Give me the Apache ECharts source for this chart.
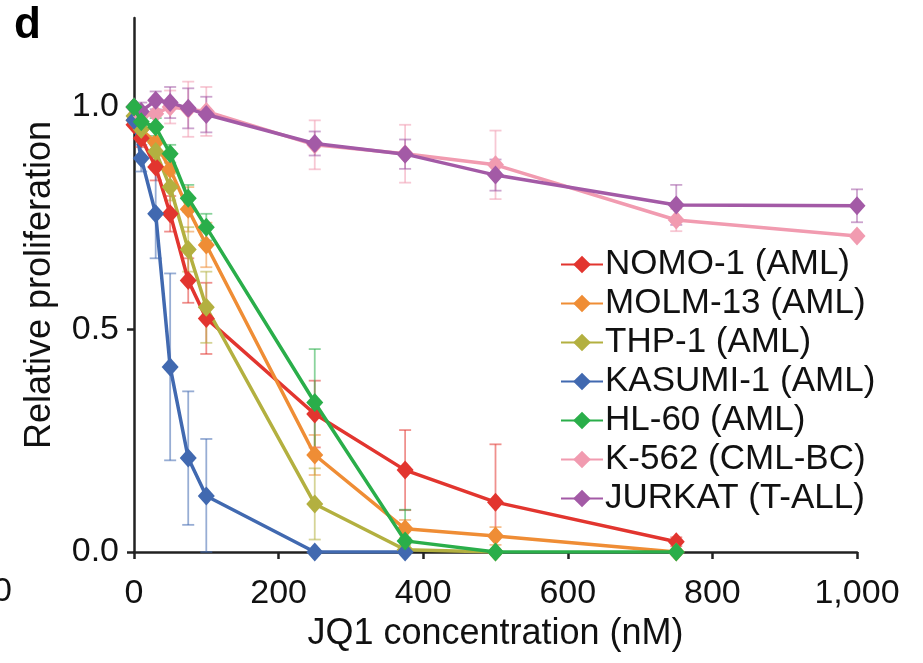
<!DOCTYPE html>
<html>
<head>
<meta charset="utf-8">
<script src="https://cdn.jsdelivr.net/npm/echarts@6/dist/echarts.min.js"></script>
<style>
html,body{margin:0;padding:0;background:#fff;}
#chart{width:923px;height:663px;}
</style>
</head>
<body>
<div id="chart"></div>
<script>
const doses = [0, 10, 30, 50, 75, 100, 250, 375, 500, 750, 1000];
const xTicks = [0, 200, 400, 600, 800, 1000];
const yTicks = [0, 0.5, 1.0];
const seriesNames = ['NOMO-1 (AML)', 'MOLM-13 (AML)', 'THP-1 (AML)', 'KASUMI-1 (AML)', 'HL-60 (AML)', 'K-562 (CML-BC)', 'JURKAT (T-ALL)'];
const colors = ['#e2352f', '#ef8d35', '#b3b040', '#4169b0', '#2aae4a', '#f19bb0', '#a35aa6'];

const nomo   = [0.96, 0.93, 0.865, 0.76, 0.61, 0.525, 0.31, 0.184, 0.112, 0.023, null];
const molm   = [0.97, 0.95, 0.92, 0.86, 0.77, 0.69, 0.218, 0.052, 0.036, 0.0, null];
const thp    = [0.98, 0.95, 0.90, 0.82, 0.68, 0.55, 0.108, 0.005, 0.0, null, null];
const kasumi = [0.97, 0.885, 0.76, 0.416, 0.211, 0.126, 0.0, 0.0, null, null, null];
const hl60   = [1.0, 0.967, 0.955, 0.895, 0.795, 0.73, 0.336, 0.025, 0.0, 0.0, null];
const k562   = [1.0, 0.98, 0.985, 1.0, 0.995, 0.99, 0.915, 0.895, 0.87, 0.746, 0.71];
const jurkat = [1.0, 0.99, 1.015, 1.01, 0.997, 0.983, 0.918, 0.894, 0.847, 0.78, 0.778];

const nomoErr   = [0, 0.02, 0.03, 0.04, 0.05, 0.08, 0.075, 0.09, 0.13, 0.01, null];
const molmErr   = [0, 0.02, 0.03, 0.04, 0.05, 0.05, 0.045, 0.02, 0.02, 0, null];
const thpErr    = [0, 0.02, 0.03, 0.03, 0.05, 0.08, 0.08, 0.01, 0, null, null];
const kasumiErr = [0, 0.03, 0.10, 0.21, 0.15, 0.128, 0, 0, null, null, null];
const hl60Err   = [0, 0.01, 0.02, 0.02, 0.03, 0.03, 0.12, 0.07, 0, 0, null];
const k562Err   = [0, 0.02, 0.03, 0.037, 0.062, 0.055, 0.055, 0.065, 0.077, 0.025, 0];
const jurkatErr = [0, 0.02, 0.02, 0.035, 0.045, 0.04, 0.027, 0.033, 0.035, 0.045, 0.037];

const values = [nomo, molm, thp, kasumi, hl60, k562, jurkat];
const errors = [nomoErr, molmErr, thpErr, kasumiErr, hl60Err, k562Err, jurkatErr];
const zOrder = [3, 3, 3, 3, 5, 3, 4];

const FONT = '"Liberation Sans", Arial, Helvetica, sans-serif';

function hexA(hex, a) {
  const r = parseInt(hex.slice(1, 3), 16), g = parseInt(hex.slice(3, 5), 16), b = parseInt(hex.slice(5, 7), 16);
  return 'rgba(' + r + ',' + g + ',' + b + ',' + a + ')';
}

const series = [];
seriesNames.forEach((name, i) => {
  const errData = [];
  doses.forEach((d, j) => {
    const v = values[i][j], e = errors[i][j];
    if (v != null && e) errData.push([d, v, Math.max(0, v - e), v + e]);
  });
  series.push({
    type: 'custom',
    name: 'err ' + name,
    z: 1,
    silent: true,
    data: errData,
    renderItem: function (params, api) {
      const top = api.coord([api.value(0), api.value(3)]);
      const bot = api.coord([api.value(0), api.value(2)]);
      const cap = 6;
      const style = { stroke: hexA(colors[i], 0.55), lineWidth: 1.8 };
      return {
        type: 'group',
        children: [
          { type: 'line', shape: { x1: top[0], y1: top[1], x2: bot[0], y2: bot[1] }, style: style },
          { type: 'line', shape: { x1: top[0] - cap, y1: top[1], x2: top[0] + cap, y2: top[1] }, style: style },
          { type: 'line', shape: { x1: bot[0] - cap, y1: bot[1], x2: bot[0] + cap, y2: bot[1] }, style: style }
        ]
      };
    }
  });
});
seriesNames.forEach((name, i) => {
  series.push({
    type: 'line',
    name: name,
    z: zOrder[i],
    data: doses.map((d, j) => [d, values[i][j]]).filter(p => p[1] != null),
    symbol: 'diamond',
    symbolSize: [17, 19],
    lineStyle: { color: colors[i], width: 3.5 },
    itemStyle: { color: colors[i] },
    emphasis: { disabled: true }
  });
});

const chart = echarts.init(document.getElementById('chart'));
chart.setOption({
  animation: false,
  backgroundColor: '#ffffff',
  color: colors,
  grid: { left: 134, right: 66, top: 18, bottom: 111, containLabel: false },
  xAxis: {
    type: 'value',
    min: 0, max: 1000, interval: 200,
    name: 'JQ1 concentration (nM)',
    nameLocation: 'middle',
    nameGap: 64,
    nameTextStyle: { fontFamily: FONT, fontSize: 36, color: '#111' },
    axisLine: { show: true, lineStyle: { color: '#222', width: 2.5 } },
    axisTick: { show: true, inside: false, length: 7, lineStyle: { color: '#222', width: 2.5 }, customValues: xTicks },
    axisLabel: {
      fontFamily: FONT, fontSize: 34, color: '#111', margin: 25,
      customValues: xTicks,
      formatter: v => v.toLocaleString('en-US')
    },
    splitLine: { show: false }
  },
  yAxis: {
    type: 'value',
    min: 0, max: 1.2, interval: 0.5,
    name: 'Relative proliferation',
    nameLocation: 'middle',
    nameGap: 76,
    nameTextStyle: { fontFamily: FONT, fontSize: 36, color: '#111' },
    axisLine: { show: true, lineStyle: { color: '#222', width: 2.5 } },
    axisTick: { show: true, inside: false, length: 7, lineStyle: { color: '#222', width: 2.5 }, customValues: yTicks },
    axisLabel: {
      fontFamily: FONT, fontSize: 34, color: '#111', margin: 15,
      customValues: yTicks,
      formatter: v => v.toFixed(1)
    },
    splitLine: { show: false }
  },
  legend: {
    data: seriesNames,
    orient: 'vertical',
    left: 560,
    top: 247,
    itemWidth: 42,
    itemHeight: 22,
    itemGap: 4,
    padding: 0,
    textStyle: { fontFamily: FONT, fontSize: 35, color: '#111', lineHeight: 35, padding: [0, 0, 0, -3] }
  },
  graphic: [
    { type: 'text', left: 14, top: 4, style: { text: 'd', fontFamily: FONT, fontSize: 44, fontWeight: 'bold', fill: '#000' } },
    { type: 'text', x: -7, y: 575, style: { text: '0', fontFamily: FONT, fontSize: 34, fill: '#111' } }
  ],
  series: series
});
</script>
</body>
</html>
